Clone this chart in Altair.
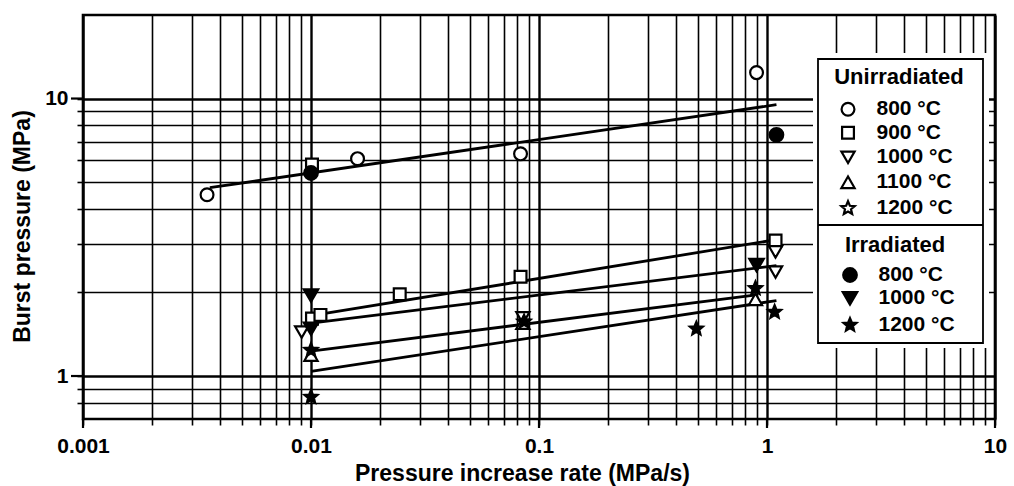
import math
import altair as alt
import pandas as pd

# ---- measured burst pressures (rate in MPa/s, pressure in MPa) ----
u800_x = [0.0035, 0.016, 0.083, 0.9]
u800_y = [4.5, 6.07, 6.32, 12.4]
u900_x = [0.0101, 0.0101, 0.011, 0.0245, 0.083, 1.09]
u900_y = [5.78, 1.61, 1.66, 1.97, 2.28, 3.08]
u1000_x = [0.0091, 0.085, 1.09, 1.09]
u1000_y = [1.44, 1.62, 2.80, 2.37]
u1100_x = [0.01, 0.085, 0.89]
u1100_y = [1.19, 1.55, 1.89]
i800_x = [0.01, 1.1]
i800_y = [5.39, 7.4]
i1000_x = [0.01, 0.01, 0.9]
i1000_y = [1.95, 1.48, 2.51]
i1200_x = [0.01, 0.01, 0.086, 0.49, 0.89, 1.08]
i1200_y = [1.24, 0.84, 1.57, 1.48, 2.07, 1.70]

# ---- fitted trend lines (end points) ----
fit_names = ["800", "900", "1000", "1100", "1200"]
fit_x0 = [0.0036, 0.0105, 0.01, 0.01, 0.01]
fit_y0 = [4.77, 1.66, 1.55, 1.23, 1.04]
fit_x1 = [1.1, 1.1, 1.1, 0.9, 1.1]
fit_y1 = [9.5, 3.1, 2.5, 1.96, 1.87]

# ---- axes ----
x_grid = [k * 10.0 ** d for d in (-3, -2, -1, 0) for k in range(1, 10)] + [10.0]
x_grid = [float(f"{v:.4g}") for v in x_grid]
y_grid = [0.8, 0.9, 1, 2, 3, 4, 5, 6, 7, 8, 9, 10]
x_major = [0.001, 0.01, 0.1, 1, 10]
y_major = [1, 10]

# ---- legend ----
series_names = ["u800", "u900", "u1000", "u1100", "u1200", "i800", "i1000", "i1200"]
series_labels = ["800 °C", "900 °C", "1000 °C", "1100 °C", "1200 °C",
                 "800 °C", "1000 °C", "1200 °C"]


def star_path(inner=0.45):
    pts = []
    for k in range(10):
        r = 1.0 if k % 2 == 0 else inner
        a = math.radians(-90 + 36 * k)
        pts.append(f"{r * math.cos(a):.3f},{r * math.sin(a):.3f}")
    return "M" + "L".join(pts) + "Z"


STAR = star_path()
shapes = ["circle", "square", "triangle-down", "triangle-up", STAR,
          "circle", "triangle-down", STAR]
fills = ["white"] * 5 + ["black"] * 3

FONT = "Liberation Sans"
W, H = 912, 404

points = pd.concat([
    pd.DataFrame({"x": xs, "y": ys, "series": name})
    for name, xs, ys in [
        ("u800", u800_x, u800_y), ("u900", u900_x, u900_y),
        ("u1000", u1000_x, u1000_y), ("u1100", u1100_x, u1100_y),
        ("i800", i800_x, i800_y), ("i1000", i1000_x, i1000_y),
        ("i1200", i1200_x, i1200_y),
    ]
], ignore_index=True)

fits = pd.concat([
    pd.DataFrame({"fit": [n, n], "x": [a, b], "y": [c, d]})
    for n, a, b, c, d in zip(fit_names, fit_x0, fit_x1, fit_y0, fit_y1)
], ignore_index=True)

is_major = "abs(log(datum.value)/LN10 - round(log(datum.value)/LN10)) < 0.001"

xscale = alt.Scale(type="log", domain=[0.001, 10], nice=False)
yscale = alt.Scale(type="log", domain=[0.7, 20], nice=False)

xaxis = alt.Axis(
    values=x_grid, grid=True, gridColor="black", gridOpacity=1,
    gridWidth={"condition": {"test": is_major, "value": 2.4}, "value": 1.6},
    domain=False, tickSize=6, tickColor="black", tickWidth=1.6,
    format="~g", labelExpr=f"({is_major}) ? datum.label : ''",
    labelFont=FONT, labelFontSize=21, labelFontWeight="bold", labelColor="black",
    labelPadding=10, labelFlush=False, labelOverlap=False, labelBound=False,
    title="Pressure increase rate (MPa/s)", titleFont=FONT, titleFontSize=23,
    titleFontWeight="bold", titleColor="black", titleX=439, titleY=61,
    titleBaseline="alphabetic", titleAlign="center",
)
yaxis = alt.Axis(
    values=y_grid, grid=True, gridColor="black", gridOpacity=1,
    gridWidth={"condition": {"test": is_major, "value": 2.4}, "value": 1.6},
    domain=False, tickSize=6, tickColor="black", tickWidth=1.6,
    format="~g", labelExpr=f"({is_major}) ? datum.label : ''",
    labelFont=FONT, labelFontSize=21, labelFontWeight="bold", labelColor="black",
    labelPadding=9, labelOverlap=False, labelBound=False, labelFlush=False,
    title="Burst pressure (MPa)", titleFont=FONT, titleFontSize=23,
    titleFontWeight="bold", titleColor="black", titleX=-61, titleY=211,
    titleBaseline="middle", titleAlign="center", titleAngle=270,
)

X = lambda f="x": alt.X(f"{f}:Q", scale=xscale, axis=xaxis)
Y = lambda f="y": alt.Y(f"{f}:Q", scale=yscale, axis=yaxis)

shape_enc = alt.Shape("series:N", scale=alt.Scale(domain=series_names, range=shapes), legend=None)
fill_enc = alt.Fill("series:N", scale=alt.Scale(domain=series_names, range=fills), legend=None)

# symbol areas per series (px^2)
symbol_area = {"u800": 165, "u900": 140, "u1000": 175, "u1100": 175, "u1200": 200,
               "i800": 185, "i1000": 210, "i1200": 190}


def symbols(df, xenc, yenc):
    layers = []
    for name in series_names:
        sub = df[df["series"] == name]
        if len(sub) == 0:
            continue
        layers.append(
            alt.Chart(sub).mark_point(filled=True, opacity=1, stroke="black", strokeWidth=2.2,
                                      size=symbol_area[name]).encode(
                x=xenc, y=yenc, shape=shape_enc, fill=fill_enc)
        )
    return layers


# longer ticks at the decades
ymaj = alt.Chart(pd.DataFrame({"y": y_major})).mark_rule(color="black", strokeWidth=2.2).encode(
    y=Y(), x=alt.value(-12), x2=alt.value(0))
xmaj = alt.Chart(pd.DataFrame({"x": x_major})).mark_rule(color="black", strokeWidth=2.2).encode(
    x=X(), y=alt.value(H), y2=alt.value(H + 9))

lines = alt.Chart(fits).mark_line(color="black", strokeWidth=2.8).encode(
    x=X(), y=Y(), detail="fit:N")

marks = symbols(points, X(), Y())

# legend panel
cover = alt.Chart(pd.DataFrame({"a": [0]})).mark_rect(fill="white").encode(
    x=alt.value(730), x2=alt.value(906), y=alt.value(38), y2=alt.value(333))
box = alt.Chart(pd.DataFrame({"a": [0]})).mark_rect(fill="white", stroke="black", strokeWidth=1.8).encode(
    x=alt.value(735), x2=alt.value(900), y=alt.value(44), y2=alt.value(328))
divider = alt.Chart(pd.DataFrame({"a": [0]})).mark_rule(color="black", strokeWidth=1.8).encode(
    x=alt.value(735), x2=alt.value(900), y=alt.value(210))

leg_sym_x = [765] * 5 + [767] * 3
leg_txt_x = [793.5] * 5 + [795.5] * 3
leg_y = [94.3, 117.7, 142.3, 167.3, 193.3, 260, 283.3, 310]
leg = pd.DataFrame({"series": series_names, "label": series_labels,
                    "sx": leg_sym_x, "tx": leg_txt_x, "sy": leg_y})

leg_sym = symbols(leg, alt.X("sx:Q", scale=None, axis=None), alt.Y("sy:Q", scale=None, axis=None))
leg_txt = alt.Chart(leg).mark_text(align="left", baseline="middle", font=FONT, fontSize=21,
                                   fontWeight="bold", color="black").encode(
    x=alt.X("tx:Q", scale=None, axis=None), y=alt.Y("sy:Q", scale=None, axis=None), text="label:N")

heads = pd.DataFrame({"label": ["Unirradiated", "Irradiated"], "hx": [816, 812], "hy": [69, 236.5]})
leg_head = alt.Chart(heads).mark_text(align="center", baseline="alphabetic", font=FONT, fontSize=22,
                                      fontWeight="bold", color="black").encode(
    x=alt.X("hx:Q", scale=None, axis=None), y=alt.Y("hy:Q", scale=None, axis=None), text="label:N")

frame = alt.Chart(pd.DataFrame({"a": [0]})).mark_rect(fillOpacity=0, stroke="black", strokeWidth=2.6).encode(
    x=alt.value(0), x2=alt.value(W), y=alt.value(0), y2=alt.value(H))

chart = alt.layer(
    ymaj, xmaj, lines, *marks, cover, box, divider, *leg_sym, leg_txt, leg_head, frame
).properties(
    width=W, height=H,
    autosize=alt.AutoSizeParams(type="none"),
    padding={"left": 83, "top": 15, "right": 19, "bottom": 67},
).configure_view(stroke=None).configure(background="white")

chart.save("out.html", embed_options={"renderer": "svg", "actions": False})
